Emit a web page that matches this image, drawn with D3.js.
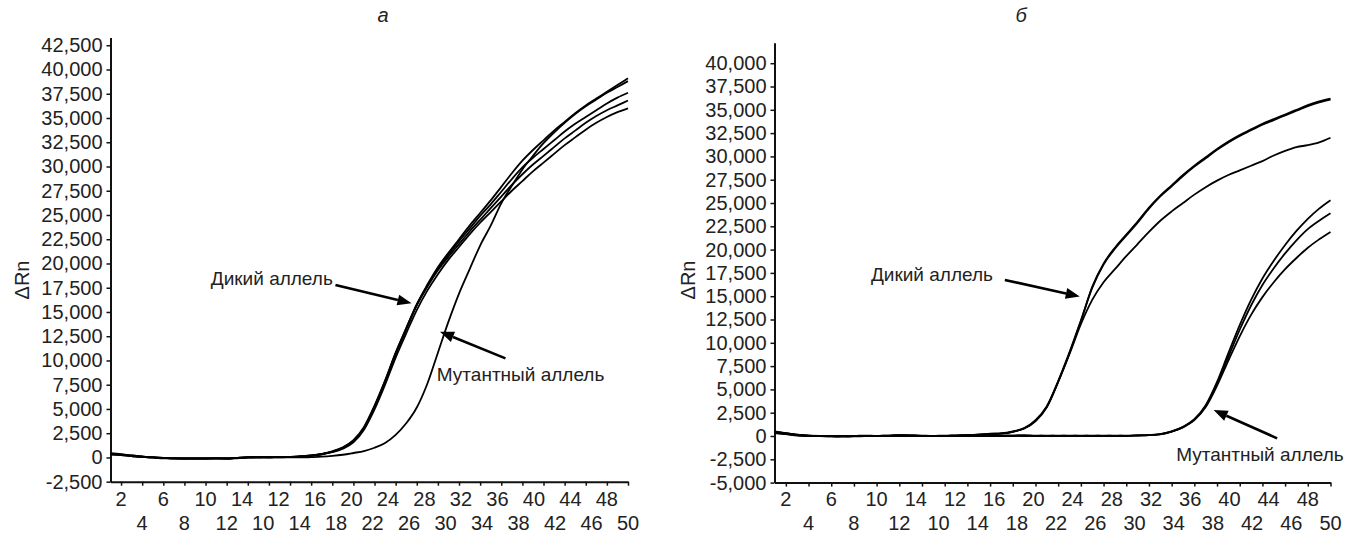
<!DOCTYPE html>
<html><head><meta charset="utf-8">
<script src="https://cdn.jsdelivr.net/npm/d3@7"></script>
<style>
body{margin:0;background:#fff;}
svg{display:block;}
</style></head><body>
<svg id="c" width="1352" height="537"></svg>
<script>
// ---------- data ----------
const cycles = [1,2,3,4,5,6,7,8,9,10,11,12,13,14,15,16,17,18,19,20,21,22,23,24,25,26,27,28,29,30,31,32,33,34,35,36,37,38,39,40,41,42,43,44,45,46,47,48,49,50];
const xTickCycles = [2,4,6,8,10,12,14,16,18,20,22,24,26,28,30,32,34,36,38,40,42,44,46,48,50];
const xTopLabels = ["2","6","10","14","12","16","20","24","28","32","36","40","44","48"];
const xBottomLabels = ["4","8","12","10","14","18","22","26","30","34","38","42","46","50"];
const yTicksA = [-2500,0,2500,5000,7500,10000,12500,15000,17500,20000,22500,25000,27500,30000,32500,35000,37500,40000,42500];
const yTicksB = [-5000,-2500,0,2500,5000,7500,10000,12500,15000,17500,20000,22500,25000,27500,30000,32500,35000,37500,40000];
const titleA = "а", titleB = "б", yTitle = "ΔRn";
const wildLabel = "Дикий аллель", mutLabel = "Мутантный аллель";

// panel а
const aWild1 = [400,300,200,100,0,-50,-100,-100,-100,-100,-100,-100,-50,0,0,0,0,40,90,170,330,570,960,1650,3000,5200,7800,10700,13300,15800,17800,19600,21100,22500,23900,25200,26500,27900,29300,30600,31700,32700,33700,34600,35500,36300,37000,37700,38400,39100];
const aWild2 = [350,300,150,50,0,-50,-100,-150,-100,-100,-100,-150,-50,0,50,0,50,50,110,200,350,600,1000,1700,3050,5250,7850,10700,13200,15700,17700,19400,20900,22300,23600,24900,26100,27400,28700,29900,30900,31800,32700,33600,34400,35100,35800,36500,37100,37600];
const aWild3 = [450,350,200,100,0,-100,-100,-100,-150,-100,-100,-100,-100,0,0,50,50,60,130,220,380,640,1050,1780,3150,5350,7950,10800,13300,15700,17600,19300,20700,22000,23300,24500,25700,26900,28100,29200,30200,31100,32000,32900,33700,34500,35200,35800,36300,36800];
const aWild4 = [300,250,150,50,0,-50,-100,-100,-100,-150,-100,-100,-50,0,0,0,50,50,110,190,320,540,900,1550,2850,4950,7500,10300,12800,15200,17200,18900,20400,21700,23000,24200,25300,26400,27500,28500,29500,30400,31300,32200,33000,33800,34500,35100,35600,36000];
const aMut = [350,250,150,50,0,-50,-100,-100,-100,-100,-100,-100,-50,0,0,0,0,0,0,35,80,160,280,460,660,1000,1500,2330,3520,5150,7600,10800,14000,16900,19400,21850,23900,26200,28000,29700,31100,32400,33500,34500,35400,36200,36900,37600,38200,38800];

// panel б
const bWild1 = [500,300,150,50,0,0,-50,0,0,0,0,50,100,50,0,0,50,100,150,200,250,450,800,1600,3100,5800,8900,12300,16000,18500,20200,21600,23000,24500,25800,26900,28000,29000,29900,30800,31600,32300,32900,33500,34000,34500,35000,35500,35900,36200];
const bWild2 = [450,300,100,50,0,-50,0,0,50,0,0,100,50,0,0,50,50,100,150,250,300,500,850,1700,3200,5900,9000,12400,15900,18400,20100,21500,22900,24400,25700,26800,27900,28900,29800,30700,31500,32200,32800,33400,33900,34400,34900,35400,35800,36100];
const bWild3 = [400,250,150,50,0,0,-50,0,0,0,50,100,50,0,0,0,50,100,150,200,250,450,800,1600,3100,5800,8800,12000,14600,16500,17900,19300,20600,21900,23100,24100,25000,25900,26700,27400,28000,28500,29000,29500,30100,30600,31000,31200,31500,32000];
const bMut1 = [400,250,100,0,0,-50,0,0,0,0,0,50,0,0,0,0,0,0,0,50,0,50,100,0,0,50,0,0,50,0,0,50,50,100,200,500,1000,1800,3300,5800,8900,11900,14600,16900,18800,20500,22000,23300,24400,25300];
const bMut2 = [350,200,100,0,0,0,-50,0,0,0,50,0,0,0,0,0,0,50,0,0,50,0,50,0,50,0,0,50,0,0,50,0,100,100,200,480,950,1750,3200,5600,8500,11400,14000,16200,18000,19600,21000,22200,23100,23900];
const bMut3 = [300,200,50,0,0,0,0,-50,0,0,0,50,0,0,0,0,50,0,0,0,0,50,0,50,0,0,50,0,0,50,0,0,50,100,180,460,920,1700,3100,5400,8100,10700,13000,14900,16500,17900,19100,20200,21100,21900];

// annotations in data coordinates (cycle, ΔRn)
const annA = [
  {text: wildLabel, at: [10.5, 17780], from: [22.3, 17780], to: [29.5, 15900]},
  {text: mutLabel, at: [31.9, 7880], from: [38.4, 10220], to: [32.2, 12970]}
];
const annB = [
  {text: wildLabel, at: [9.5, 16630], from: [21.3, 16740], to: [27.9, 14970]},
  {text: mutLabel, at: [36.4, -2680], from: [45.3, -250], to: [39.7, 2790]}
];

// ---------- drawing ----------
const svg = d3.select("#c");
const fmt = v => d3.format(",")(v).replace("\u2212", "-");
const FONT = "'Liberation Sans', Arial, sans-serif";
const NARROW = "'Liberation Sans Narrow', 'Arial Narrow', 'Liberation Sans', sans-serif";

function panel(cfg) {
  const x = d3.scaleLinear().domain([1, 50]).range(cfg.xr);
  const y = d3.scaleLinear().domain(cfg.yd).range(cfg.yr);
  const g = svg.append("g");

  // y axis
  const ya = g.append("g").attr("transform", `translate(${cfg.xr[0]},0)`)
    .call(d3.axisLeft(y).tickValues(cfg.yTicks).tickSize(4).tickSizeOuter(0).tickPadding(4).tickFormat(fmt));
  ya.select(".domain").attr("stroke", "#111").attr("stroke-width", 2);
  ya.selectAll(".tick line").attr("stroke", "#111").attr("stroke-width", 1.5);
  ya.selectAll(".tick text").attr("font-family", FONT).attr("font-size", 20).attr("fill", "#222");

  // x axis
  const xa = g.append("g").attr("transform", `translate(0,${cfg.yr[0]})`)
    .call(d3.axisBottom(x).tickValues(xTickCycles).tickSize(4).tickSizeOuter(0).tickFormat(""));
  xa.select(".domain").attr("stroke", "#111").attr("stroke-width", 2);
  xa.selectAll(".tick line").attr("stroke", "#111").attr("stroke-width", 1.5);

  // x tick labels (two staggered rows)
  const topPos = d3.scaleLinear().domain([0, 2, xTopLabels.length - 1]).range([x(2), x(10), x(48)]);
  const botPos = d3.scaleLinear().domain([0, 2, xBottomLabels.length - 1]).range([x(4), x(12), x(50)]);
  g.append("g").selectAll("text").data(xTopLabels).join("text")
    .attr("x", (d, i) => topPos(i)).attr("y", 506)
    .attr("text-anchor", "middle").attr("font-family", NARROW).attr("font-size", 20).attr("fill", "#222")
    .text(d => d);
  g.append("g").selectAll("text").data(xBottomLabels).join("text")
    .attr("x", (d, i) => botPos(i)).attr("y", 530)
    .attr("text-anchor", "middle").attr("font-family", NARROW).attr("font-size", 20).attr("fill", "#222")
    .text(d => d);

  // y title
  g.append("text").attr("transform", `translate(${cfg.yTitleX},280) rotate(-90)`)
    .attr("text-anchor", "middle").attr("dominant-baseline", "central")
    .attr("font-family", FONT).attr("font-size", 20).attr("fill", "#222").text(yTitle);

  // panel title
  g.append("text").attr("x", cfg.titleX).attr("y", 22).attr("text-anchor", "middle")
    .attr("font-family", FONT).attr("font-style", "italic").attr("font-size", 20).attr("fill", "#222")
    .text(cfg.title);

  // curves
  const line = d3.line().x((d, i) => x(cycles[i])).y(d => y(d)).curve(d3.curveMonotoneX);
  g.append("g").selectAll("path").data(cfg.series).join("path")
    .attr("d", d => line(d)).attr("fill", "none").attr("stroke", "#000")
    .attr("stroke-width", 1.8).attr("stroke-linejoin", "round");

  // annotations
  cfg.ann.forEach(a => {
    g.append("text").attr("x", x(a.at[0])).attr("y", y(a.at[1]))
      .attr("font-family", FONT).attr("font-size", 19).attr("fill", "#222").text(a.text);
    const x1 = x(a.from[0]), y1 = y(a.from[1]), x2 = x(a.to[0]), y2 = y(a.to[1]);
    const ang = Math.atan2(y2 - y1, x2 - x1);
    const L = 14, W = 5.5;
    const bx = x2 - L * Math.cos(ang), by = y2 - L * Math.sin(ang);
    g.append("line").attr("x1", x1).attr("y1", y1).attr("x2", bx).attr("y2", by)
      .attr("stroke", "#000").attr("stroke-width", 2.6);
    const px = -Math.sin(ang) * W, py = Math.cos(ang) * W;
    g.append("polygon")
      .attr("points", `${x2},${y2} ${bx + px},${by + py} ${bx - px},${by - py}`)
      .attr("fill", "#000");
  });
}

panel({
  xr: [110.5, 628], yd: [-2500, 43300], yr: [481.7, 37.5], yTicks: yTicksA,
  yTitleX: 22, titleX: 383, title: titleA,
  series: [aWild1, aWild2, aWild3, aWild4, aMut], ann: annA
});
panel({
  xr: [774.5, 1330.5], yd: [-5000, 42200], yr: [482.6, 42.7], yTicks: yTicksB,
  yTitleX: 688, titleX: 1021, title: titleB,
  series: [bWild1, bWild2, bWild3, bMut1, bMut2, bMut3], ann: annB
});
</script>
</body></html>
